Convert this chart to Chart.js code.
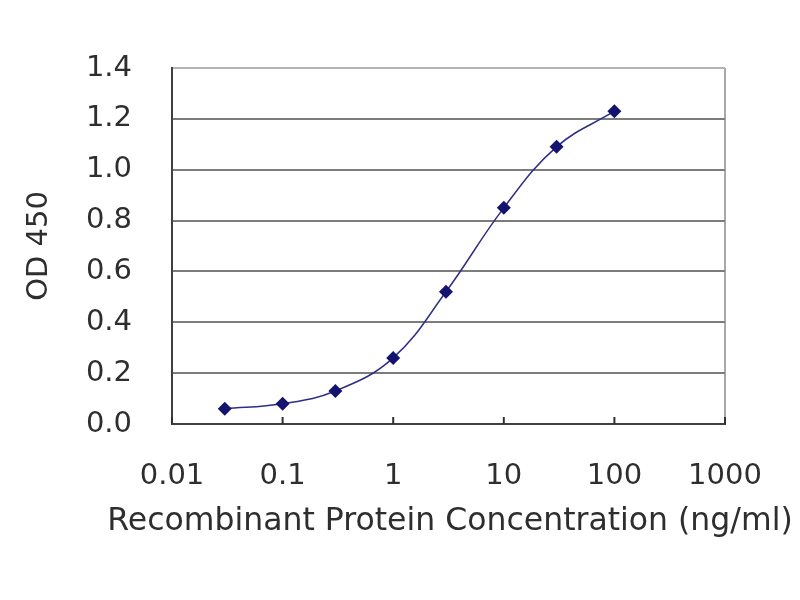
<!DOCTYPE html>
<html>
<head>
<meta charset="utf-8">
<script src="https://cdn.jsdelivr.net/npm/chart.js@4/dist/chart.umd.min.js"></script>
<style>
  html, body { margin: 0; padding: 0; background: #fff; }
  canvas { display: block; }
</style>
</head>
<body>
<canvas id="chart" width="800" height="600"></canvas>
<script>
// data
const concentrations = [0.03, 0.1, 0.3, 1, 3, 10, 30, 100];
const od450 = [0.06, 0.08, 0.13, 0.26, 0.52, 0.85, 1.09, 1.23];
const xTicks = [0.01, 0.1, 1, 10, 100, 1000];
const xTickLabels = ['0.01', '0.1', '1', '10', '100', '1000'];
const yTicks = [0, 0.2, 0.4, 0.6, 0.8, 1.0, 1.2, 1.4];
const xTitle = 'Recombinant Protein Concentration (ng/ml)';
const yTitle = 'OD 450';

const FONT = 'DejaVu Sans';
const TEXT = '#2e2e2e';

// short marks pointing into the plot at each decade on the x axis
const innerTicks = {
  id: 'innerTicks',
  afterDraw(chart) {
    const { ctx, scales: { x }, chartArea } = chart;
    ctx.save();
    ctx.strokeStyle = '#303030';
    ctx.lineWidth = 2;
    xTicks.forEach((v) => {
      const px = x.getPixelForValue(v);
      ctx.beginPath();
      ctx.moveTo(px, chartArea.bottom);
      ctx.lineTo(px, chartArea.bottom - 7);
      ctx.stroke();
    });
    ctx.restore();
  },
};

// x axis title is wider than the plot, so the scale's own title would be squeezed
const xAxisTitle = {
  id: 'xAxisTitle',
  afterDraw(chart) {
    const { ctx } = chart;
    ctx.save();
    ctx.font = `31.5px "${FONT}"`;
    ctx.fillStyle = TEXT;
    ctx.textAlign = 'center';
    ctx.textBaseline = 'middle';
    ctx.fillText(xTitle, 450, 522);
    ctx.restore();
  },
};

new Chart(document.getElementById('chart'), {
  type: 'line',
  data: {
    datasets: [{
      data: concentrations.map((c, i) => ({ x: c, y: od450[i] })),
      borderColor: '#2e2e88',
      borderWidth: 1.5,
      backgroundColor: '#14146e',
      pointStyle: 'rectRot',
      pointRadius: 7,
      pointBorderWidth: 0,
      tension: 0.4,
    }],
  },
  options: {
    responsive: false,
    animation: false,
    devicePixelRatio: 1,
    layout: { padding: { top: 68, right: 75, bottom: 0, left: 0 } },
    plugins: { legend: { display: false }, tooltip: { enabled: false } },
    scales: {
      x: {
        type: 'logarithmic',
        min: 0.01,
        max: 1000,
        afterBuildTicks: (scale) => { scale.ticks = xTicks.map((v) => ({ value: v })); },
        afterFit: (scale) => { scale.height = 176; },
        ticks: {
          callback: (v) => xTickLabels[xTicks.indexOf(v)],
          font: { family: FONT, size: 29 },
          color: TEXT,
          padding: 35,
          maxRotation: 0,
          autoSkip: false,
        },
        grid: {
          drawTicks: false,
          lineWidth: 2,
          color: (c) => (c.tick && c.tick.value === 1000 ? '#a8a8a8' : 'rgba(0,0,0,0)'),
        },
        border: { color: '#404040', width: 2 },
      },
      y: {
        min: 0,
        max: 1.4,
        afterBuildTicks: (scale) => { scale.ticks = yTicks.map((v) => ({ value: v })); },
        afterFit: (scale) => { scale.width = 172; },
        ticks: {
          callback: (v) => v.toFixed(1),
          font: { family: FONT, size: 29 },
          color: TEXT,
          padding: 40,
        },
        grid: {
          drawTicks: false,
          lineWidth: 2,
          color: (c) => {
            const v = c.tick ? c.tick.value : 0;
            if (v === 0) return 'rgba(0,0,0,0)';
            if (v === 1.4) return '#b4b4b4';
            return '#7c7c7c';
          },
        },
        border: { color: '#404040', width: 2 },
        title: {
          display: true,
          text: yTitle,
          font: { family: FONT, size: 29 },
          color: TEXT,
          padding: { top: 22, bottom: 0 },
        },
      },
    },
  },
  plugins: [innerTicks, xAxisTitle],
});
</script>
</body>
</html>
